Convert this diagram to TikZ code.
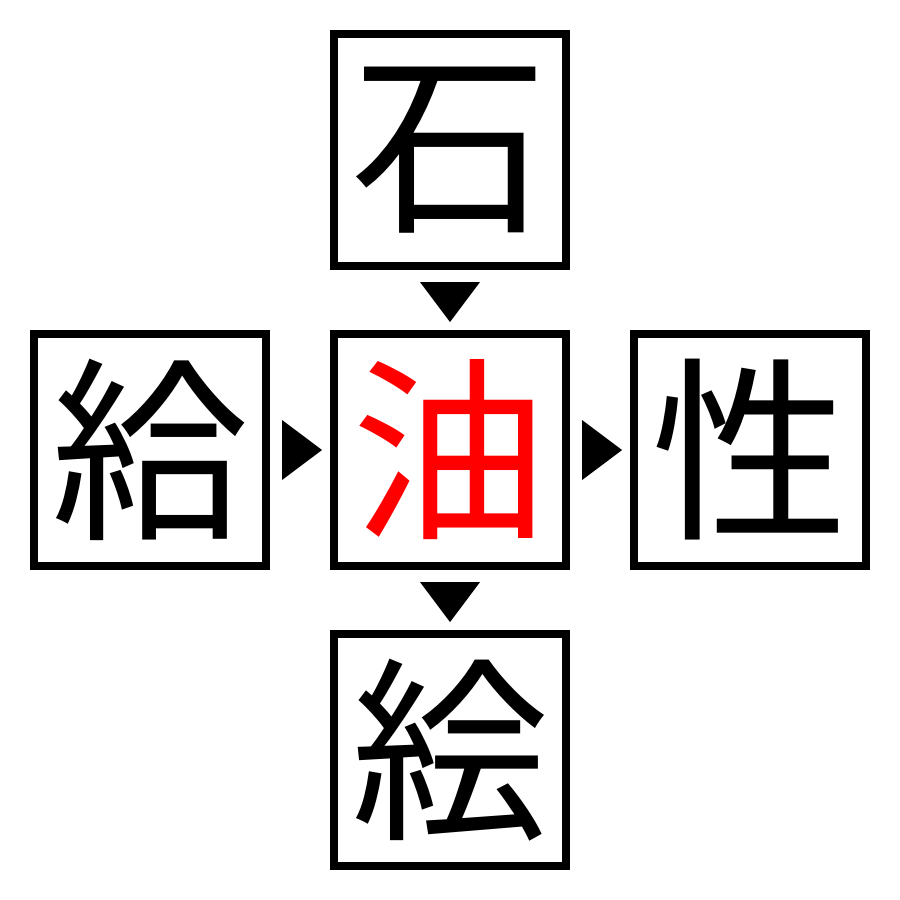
\documentclass[tikz,border=0pt]{standalone}
\usepackage{fontspec}
\usetikzlibrary{calc}
\newfontfamily\cjk{Noto Sans CJK JP}
\begin{document}
\begin{tikzpicture}[x=0.01cm,y=-0.01cm,
  kbox/.style={draw=black,line width=0.08cm,minimum size=2.32cm,inner sep=0pt,font=\cjk\fontsize{56}{56}\selectfont},
  tri/.style={fill=black}]
\useasboundingbox (0,0) rectangle (900,900);
\node[kbox] (t) at (450,150) {石};
\node[kbox] (l) at (150,450) {給};
\node[kbox,text=red] (c) at (450,450) {油};
\node[kbox] (r) at (750,450) {性};
\node[kbox] (b) at (450,750) {絵};
\fill[tri] ($(t.south)+(-30,12)$) -- ++(60,0) -- ++(-30,40) -- cycle;
\fill[tri] ($(c.south)+(-30,12)$) -- ++(60,0) -- ++(-30,40) -- cycle;
\fill[tri] ($(l.east)+(12,-30)$) -- ++(0,60) -- ++(40,-30) -- cycle;
\fill[tri] ($(c.east)+(12,-30)$) -- ++(0,60) -- ++(40,-30) -- cycle;
\end{tikzpicture}
\end{document}
